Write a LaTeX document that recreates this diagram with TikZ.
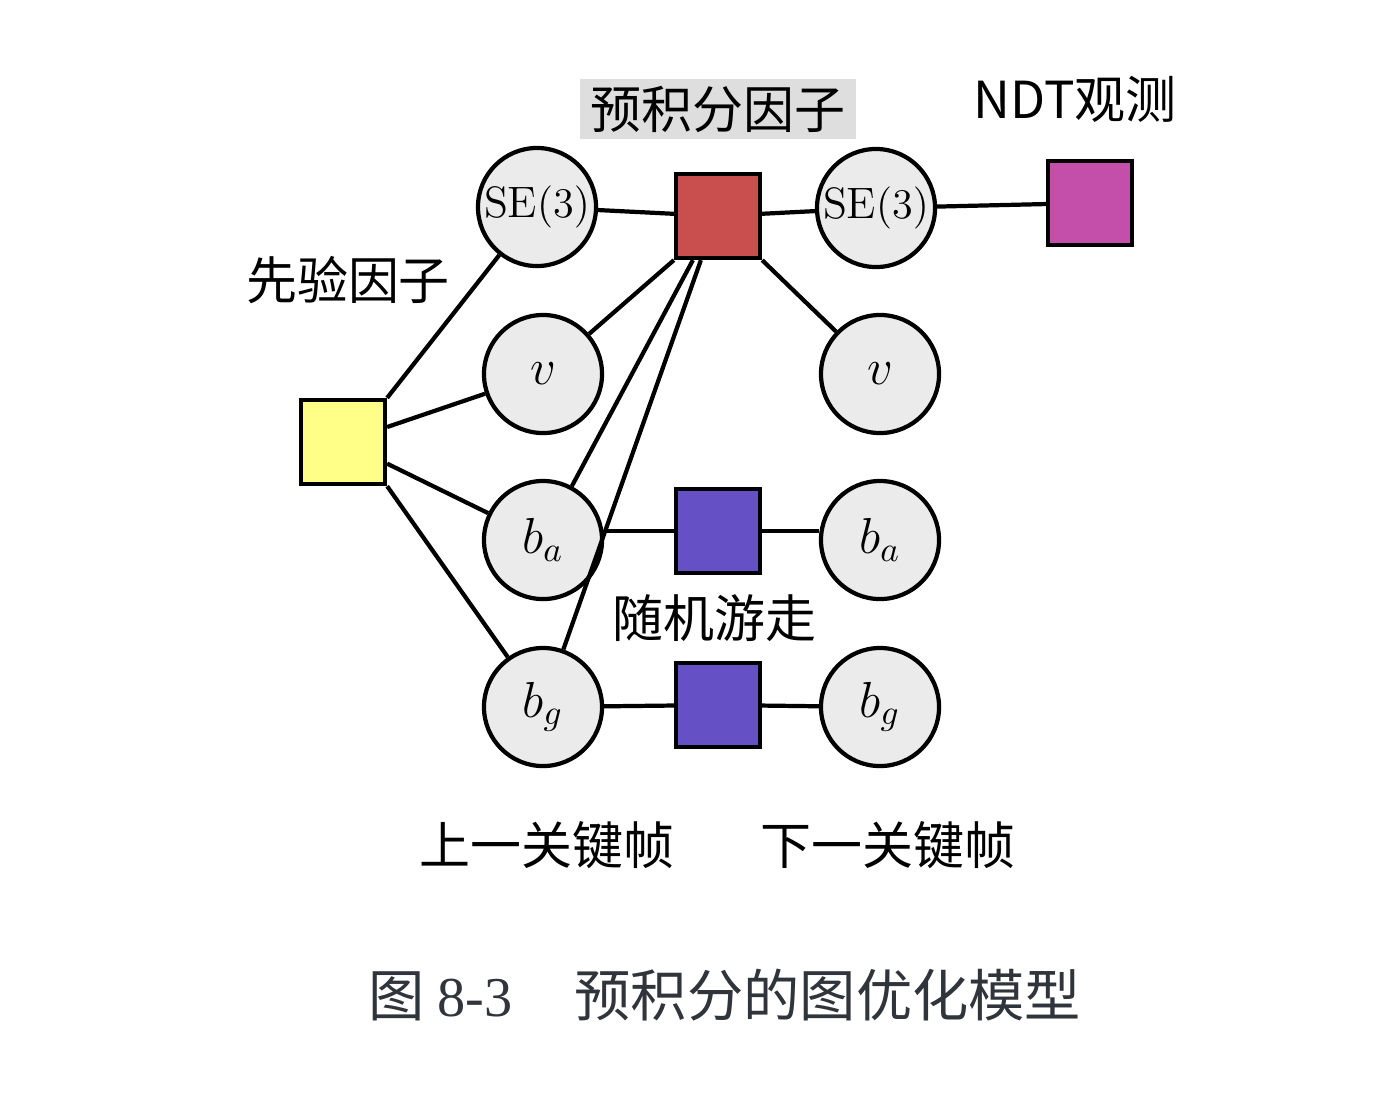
\documentclass[tikz,border=0pt]{standalone}
\usepackage{fontspec}
\newfontfamily\cjk{Noto Sans CJK SC}
\newfontfamily\capnum{Liberation Serif}
\usetikzlibrary{positioning}
\definecolor{varfill}{HTML}{EBEBEB}
\definecolor{prefill}{HTML}{C84F4E}
\definecolor{ndtfill}{HTML}{C44FAB}
\definecolor{priorfill}{HTML}{FFFF88}
\definecolor{walkfill}{HTML}{6650C6}
\definecolor{capgray}{HTML}{30343B}
\begin{document}
\begin{tikzpicture}[x=0.01cm,y=-0.01cm,line width=1.2pt,
  var/.style={circle,draw,fill=varfill,minimum size=1.18cm,inner sep=0pt,font=\fontsize{14.5}{16}\selectfont},
  pose/.style={var,font=\fontsize{12.5}{14}\selectfont},
  fac/.style={rectangle,draw,minimum size=0.84cm,inner sep=0pt},
  lbl/.style={font=\cjk\fontsize{14.5}{16}\selectfont,inner sep=0pt}]
\useasboundingbox (0,0) rectangle (1389,1093);
\node[pose] (sel) at (537,207) {$\mathrm{SE}(3)$};
\node[var] (vl) at (543,374) {$v$};
\node[var] (bal) at (543,540) {$b_a$};
\node[var] (bgl) at (543,707) {$b_g$};
\node[pose] (ser) at (876,208) {$\mathrm{SE}(3)$};
\node[var] (vr) at (880,374) {$v$};
\node[var] (bar) at (880,540) {$b_a$};
\node[var] (bgr) at (880,707) {$b_g$};
\node[fac,fill=prefill] (pre) at (718,216) {};
\node[fac,fill=ndtfill] (ndt) at (1090,203) {};
\node[fac,fill=priorfill] (prior) at (343,442) {};
\node[fac,fill=walkfill] (wa) at (718,531) {};
\node[fac,fill=walkfill] (wg) at (718,705) {};
\draw (prior.north east) -- (sel);
\draw (prior) -- (vl);
\draw (prior) -- (bal);
\draw (prior.south east) -- (bgl);
\draw (sel) -- (pre) -- (ser) -- (ndt);
\draw (pre.south west) -- (vl);
\draw ([xshift=0.19cm]pre.south west) -- (bal);
\draw ([xshift=0.27cm]pre.south west) -- (bgl);
\draw (pre.south east) -- (vr);
\draw (bal.east |- wa) -- (wa) -- (bar.west |- wa);
\draw (bgl) -- (wg) -- (bgr);
\node[lbl,fill=black!13,inner xsep=3pt,inner ysep=2pt] (prelbl) at (718,109) {预积分因子};
\node[lbl] (ndtlbl) at (1075,99) {NDT观测};
\node[lbl] (priorlbl) at (348,280) {先验因子};
\node[lbl] (walklbl) at (714,618) {随机游走};
\node[lbl] (lastkf) at (547,845) {上一关键帧};
\node[lbl] (nextkf) at (888,845) {下一关键帧};
\node[inner sep=0pt,text=capgray,font=\cjk\fontsize{16}{18}\selectfont] (cap) at (725,995)
  {图 {\capnum 8-3}\hspace{1.1em}预积分的图优化模型};
\end{tikzpicture}
\end{document}
